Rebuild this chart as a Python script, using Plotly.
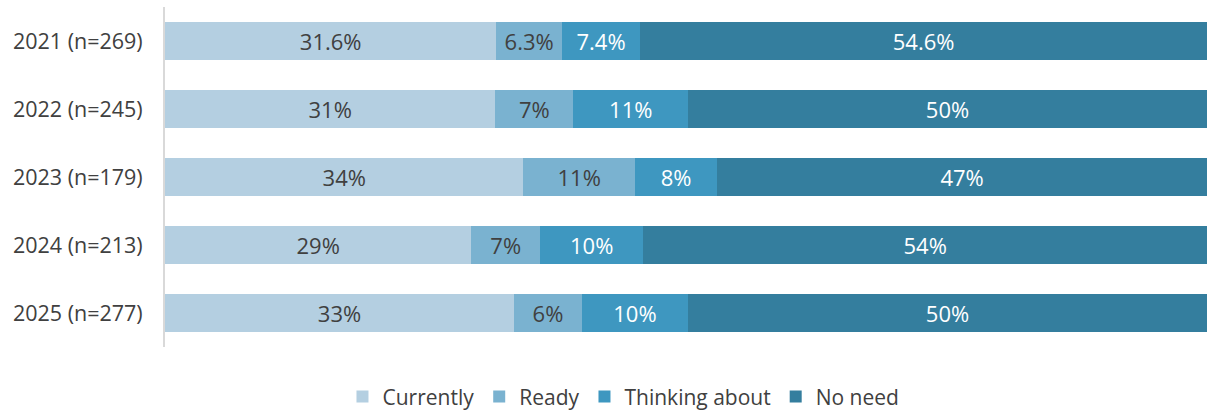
import plotly.graph_objects as go

categories = ["2021 (n=269)", "2022 (n=245)", "2023 (n=179)", "2024 (n=213)", "2025 (n=277)"]
series_names = ["Currently", "Ready", "Thinking about", "No need"]
# segment lengths (percent of full bar)
currently = [31.8, 31.7, 34.4, 29.4, 33.5]
ready = [6.3, 7.5, 10.7, 6.6, 6.5]
thinking = [7.5, 11.0, 7.9, 9.9, 10.2]
no_need = [54.4, 49.8, 47.0, 54.1, 49.8]
# printed data labels
labels_currently = ["31.6%", "31%", "34%", "29%", "33%"]
labels_ready = ["6.3%", "7%", "11%", "7%", "6%"]
labels_thinking = ["7.4%", "11%", "8%", "10%", "10%"]
labels_no_need = ["54.6%", "50%", "47%", "54%", "50%"]

colors = ["#b4cfe1", "#7ab2d0", "#3e97c0", "#347e9e"]
text_colors = ["#404040", "#404040", "#ffffff", "#ffffff"]
FONT = "Open Sans"

fig = go.Figure()
for name, vals, labs, col, tcol in zip(
    series_names,
    [currently, ready, thinking, no_need],
    [labels_currently, labels_ready, labels_thinking, labels_no_need],
    colors, text_colors,
):
    fig.add_trace(go.Bar(
        y=categories, x=vals, name=name, orientation="h",
        marker=dict(color=col, line=dict(width=0)),
        text=labs, textposition="inside", insidetextanchor="middle",
        textfont=dict(color=tcol, size=22, family=FONT),
        textangle=0, constraintext="none", hoverinfo="skip",
    ))

fig.update_layout(
    barmode="stack", barnorm="percent", bargap=0.44,
    width=1207, height=410,
    margin=dict(l=165, r=0, t=7, b=63, autoexpand=False),
    plot_bgcolor="white", paper_bgcolor="white",
    font=dict(family=FONT, size=21, color="#404040"),
    legend=dict(orientation="h", x=0.44, xanchor="center",
                yref="container", y=0.032, yanchor="middle",
                font=dict(size=21, color="#404040"), traceorder="normal",
                itemwidth=30, itemclick=False),
    showlegend=True,
)
fig.update_xaxes(range=[0, 100], showticklabels=False, showgrid=False, zeroline=False,
                 showline=False, fixedrange=True)
fig.update_yaxes(autorange="reversed", showgrid=False, zeroline=False, showline=True,
                 linecolor="#d9d9d9", linewidth=2, ticks="", ticklabelstandoff=16,
                 tickfont=dict(size=21.5, color="#404040"), fixedrange=True)

fig.write_html("out.html", config={"displayModeBar": False},
               post_script="document.body.style.margin='0';document.body.style.overflow='hidden';")
